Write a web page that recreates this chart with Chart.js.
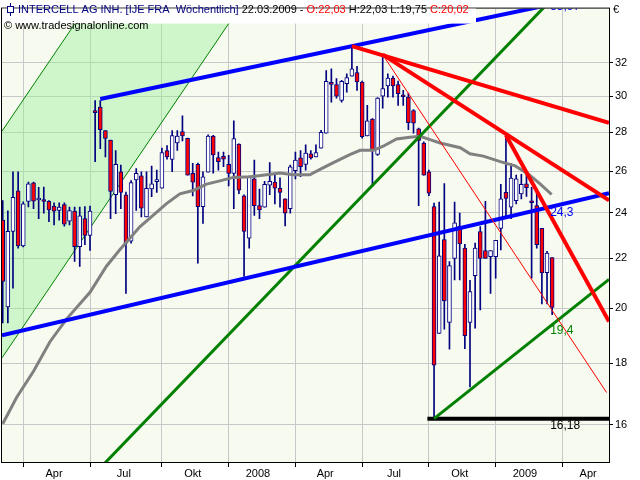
<!DOCTYPE html>
<html>
<head>
<meta charset="utf-8">
<script src="https://cdn.jsdelivr.net/npm/chart.js@4"></script>
<style>
  html, body { margin: 0; padding: 0; background: #fff; }
  canvas { display: block; }
</style>
</head>
<body>
<canvas id="chart" width="640" height="480"></canvas>
<script>
// weekly candles, week 0 = early March 2007, week 107 = 22.03.2009
const opens = [23.67,20.04,23.16,25.04,22.53,24.53,25.42,24.6,24.6,24.54,
  24.31,24.11,24.39,23.62,24.08,22.5,23.74,22.99,29.14,29.39,
  28.1,27.6,24.85,25.97,24.84,22.73,25.57,25.77,23.81,25.13,
  25.48,25.16,27.04,26.59,27.44,28.04,27.68,25.89,26.34,24.29,
  25.95,27.81,26.68,26.75,26.34,25.89,27.38,24.8,22.87,25.62,
  24.34,24.26,25.31,25.46,25.16,24.65,24.19,26.02,26.67,26.34,
  26.88,26.72,27.17,27.96,30.8,30.69,29.77,30.75,31.19,31.4,
  30.84,27.81,28.73,26.84,30.02,30.61,31.08,30.69,30.06,29.96,
  29.2,28.19,27.44,25.97,24.29,19.05,22.8,19.46,22.0,23.4,
  22.43,19.46,21.28,23.16,22.33,22.07,22.07,23.3,24.96,24.26,
  24.57,24.89,25.38,24.5,24.34,23.3,21.4,22.03];
const highs = [24.57,24.09,25.97,25.97,24.51,25.46,25.46,25.2,25.22,24.57,
  24.47,24.47,24.47,24.27,24.27,24.27,24.29,24.31,29.77,29.77,
  28.1,27.6,27.05,26.3,24.98,25.53,26.13,25.97,25.97,26.25,
  26.05,27.17,27.3,28.1,28.1,28.91,27.7,26.39,26.4,25.97,
  27.87,27.85,26.97,26.97,26.8,28.63,27.4,24.85,25.75,26.55,
  25.12,25.5,26.43,25.79,25.67,24.65,26.3,26.97,27.05,27.34,
  27.05,27.34,28.11,31.53,31.63,31.04,30.94,31.33,33.06,31.78,
  30.9,29.49,28.75,29.94,32.44,31.33,31.2,30.9,30.35,30.2,
  29.26,28.23,27.5,26.05,24.45,24.5,25.39,21.86,24.5,23.99,
  22.6,21.09,22.65,23.38,24.54,22.33,22.77,25.35,27.85,26.38,
  25.8,25.84,25.84,25.2,25.13,23.3,22.3,22.03];
const lows = [19.44,19.44,20.78,22.43,22.49,24.28,24.19,23.74,23.99,23.6,
  23.45,23.67,23.4,23.45,21.87,21.66,22.58,22.33,26.47,27.14,
  26.72,23.74,23.96,24.19,20.57,22.65,24.11,23.81,23.81,24.76,
  24.96,25.16,26.6,25.97,27.05,27.55,25.8,24.79,21.8,23.52,
  25.95,25.9,26.05,26.22,25.27,24.19,24.9,21.25,22.43,23.88,
  23.74,24.26,24.85,24.42,24.26,23.41,23.99,25.62,25.73,26.05,
  26.6,26.72,27.17,27.96,29.67,29.9,29.67,30.25,31.19,30.35,
  27.7,27.81,25.27,26.8,29.33,29.96,29.96,29.49,29.49,28.15,
  27.96,24.34,25.8,24.8,16.18,19.05,19.21,18.48,21.11,21.11,
  18.5,17.19,19.24,19.93,22.0,20.57,21.18,22.36,23.74,23.74,
  24.42,24.65,24.77,21.18,22.43,20.16,20.16,19.75];
const closes = [21.05,23.17,24.73,22.53,24.42,25.38,24.54,24.67,24.53,24.14,
  24.08,24.27,23.49,24.11,22.5,23.86,22.99,24.08,29.08,28.15,
  27.68,25.01,26.34,24.96,22.65,25.43,25.89,24.22,25.16,25.38,
  25.54,26.94,26.72,27.83,27.8,27.81,25.8,25.46,24.29,25.72,
  27.81,26.82,26.47,26.6,25.89,27.67,25.07,23.16,25.73,24.34,
  24.14,25.35,25.5,25.16,24.96,23.99,26.22,26.55,26.22,26.92,
  26.67,26.94,28.0,30.88,30.7,30.02,30.88,31.1,31.63,30.84,
  27.77,28.63,27.05,29.9,30.45,31.08,30.61,30.16,29.98,28.53,
  28.5,27.58,25.8,24.92,17.93,22.1,20.27,21.7,23.55,22.61,
  18.97,20.64,22.43,22.0,22.0,22.33,22.77,24.65,24.68,25.66,
  25.62,25.35,25.19,24.47,22.58,21.39,22.22,20.02];

// moving average: [week, price]
const maWeeks = [0,2.7,6,9.2,12.5,17,20.2,22.8,26.7,31.9,34.5,37.1,39.7,42.3,44.9,48.2,51.4,54,56.6,59.8,
  61.8,64.4,67.6,69.6,72.2,74.1,76.7,79.3,81.3,83.2,85.2,89.1,91,93.6,96.9,99.8,102.4,104.7,106.9];
const maValues = [16.02,16.85,17.72,18.75,19.6,20.61,21.67,22.36,23.37,24.43,24.89,25.05,25.36,25.52,25.69,25.72,25.82,25.9,25.82,25.82,
  26.09,26.43,26.84,27.06,27.06,27.27,27.65,27.74,27.79,27.62,27.44,27.19,26.88,26.76,26.48,26.26,25.85,25.36,24.86];

// trend lines: [week, price] end points
const channelLow = [[-0.14, 28.07], [50, 58.1]];
const channelHigh = [[-0.14, 18.18], [50, 37.63]];
const blueUpper = [[19, 29.85], [118.07, 36.63]];
const blueLower = [[-0.14, 18.98], [118.07, 24.92]];
const greenLong = [[-0.14, 12.11], [118.07, 40.5]];
const greenLow = [[84, 16.18], [118.07, 21.13]];
const supportLine = [[82.7, 16.18], [118.07, 16.18]];
const redTop = [[68, 33.04], [118.07, 28.52]];
const redMid = [[74, 32.5], [118.07, 24.58]];
const redSteep = [[98, 27.85], [118.07, 19.49]];
const redThin = [[74, 32.5], [117.6, 17.01]];

const lineLabels = ['35,97', '24,3', '19,4', '16,18'];
const lastWeek = 107;

const yTicks = [16, 18, 20, 22, 24, 26, 28, 30, 32];
const xGridWeeks = [4, 17, 31, 44, 57, 70, 83, 96, 109];
const xLabelWeeks = [10, 23.6, 37, 49.7, 62.8, 76.2, 89, 101.7, 114];
const xLabelText = ['Apr', 'Jul', 'Okt', '2008', 'Apr', 'Jul', 'Okt', '2009', 'Apr'];

const FONT = '"Liberation Sans", Arial, sans-serif';
const labelMap = new Map(xLabelWeeks.map((w, i) => [w, xLabelText[i]]));

const pts = arr => arr.map(p => ({ x: p[0], y: p[1] }));
const trend = (points, color, width, order) => ({
  type: 'line', data: pts(points), borderColor: color, borderWidth: width,
  pointRadius: 0, fill: false, tension: 0, clip: 0, order
});

const wickData = highs.map((h, i) => ({ x: i, y: [lows[i], h] }));
const bodyData = opens.map((o, i) => ({ x: i, y: [o, closes[i]] }));
const bodyColors = opens.map((o, i) => closes[i] >= o ? '#ffffff' : '#ff0000');

const framePlugin = {
  id: 'frame',
  beforeDraw(chart) {
    const { ctx, chartArea: a } = chart;
    ctx.save();
    ctx.fillStyle = '#ffffff';
    ctx.fillRect(0, 0, chart.width, chart.height);
    ctx.fillStyle = '#f7faef';
    ctx.fillRect(a.left, a.top, a.right - a.left, a.bottom - a.top);
    ctx.restore();
  },
  afterDraw(chart) {
    const { ctx, chartArea: a } = chart;
    const xs = chart.scales.x, ys = chart.scales.y;
    const at = (line, w) => {
      const x0 = xs.getPixelForValue(line[0][0]), y0 = ys.getPixelForValue(line[0][1]);
      const x1 = xs.getPixelForValue(line[1][0]), y1 = ys.getPixelForValue(line[1][1]);
      const x = xs.getPixelForValue(w);
      return y0 + (y1 - y0) * (x - x0) / (x1 - x0);
    };
    ctx.save();
    ctx.beginPath();
    ctx.rect(a.left, a.top, a.right - a.left, a.bottom - a.top);
    ctx.clip();
    ctx.font = '12px ' + FONT;
    ctx.textBaseline = 'top';
    ctx.textAlign = 'left';
    const lx = xs.getPixelForValue(lastWeek) - 2;
    [[blueUpper, '#0000ff', -3], [blueLower, '#0000ff', 0], [greenLow, '#008000', 0], [supportLine, '#000000', 1]]
      .forEach(([line, color, dy], i) => {
        ctx.fillStyle = color;
        ctx.fillText(lineLabels[i], lx, at(line, lastWeek) + dy);
      });
    ctx.restore();

    ctx.save();
    // frame
    ctx.strokeStyle = '#000';
    ctx.lineWidth = 1;
    ctx.strokeRect(a.left - 0.5, a.top - 0.5, a.right - a.left + 1, a.bottom - a.top + 1);
    // header
    ctx.fillStyle = '#ffffff';
    ctx.fillRect(a.left, a.top, 474, 15);
    ctx.strokeStyle = '#000080';
    ctx.beginPath();
    ctx.moveTo(10.5, 3); ctx.lineTo(10.5, 16);
    ctx.stroke();
    ctx.fillStyle = '#ffffff';
    ctx.fillRect(8, 6.5, 5, 6);
    ctx.strokeRect(7.5, 6.5, 6, 6);
    ctx.font = '11px ' + FONT;
    ctx.textBaseline = 'middle';
    let x = 18;
    [['INTERCELL AG INH. [IJE FRA  Wöchentlich] ', '#000080'], ['22.03.2009 - ', '#000000'],
     ['O:22,03 ', '#ff0000'], ['H:22,03 L:19,75 ', '#000000'], ['C:20,02', '#ff0000']]
      .forEach(([t, c]) => {
        ctx.fillStyle = c;
        ctx.fillText(t, x, 10);
        x += ctx.measureText(t).width;
      });
    ctx.fillStyle = '#000000';
    ctx.fillText('© www.tradesignalonline.com', 4, 26);
    ctx.fillText('€', 613, 10);
    ctx.restore();
  }
};

new Chart(document.getElementById('chart'), {
  type: 'bar',
  data: {
    datasets: [
      { type: 'line', data: pts(channelLow), borderColor: '#008000', borderWidth: 1, pointRadius: 0,
        fill: false, clip: 0, order: 10 },
      { type: 'line', data: pts(channelHigh), borderColor: '#008000', borderWidth: 1, pointRadius: 0,
        fill: '-1', backgroundColor: 'rgba(150,240,150,0.42)', clip: 0, order: 9 },
      { data: wickData, backgroundColor: '#000080', barThickness: 1, grouped: false, order: 8 },
      { data: bodyData, backgroundColor: bodyColors, borderColor: '#000080', borderWidth: 1,
        borderSkipped: false, barThickness: 4, minBarLength: 2, grouped: false, order: 7 },
      { type: 'line', data: maWeeks.map((w, i) => ({ x: w, y: maValues[i] })), borderColor: '#808080',
        borderWidth: 3, pointRadius: 0, fill: false, tension: 0, clip: 0, order: 6 },
      trend(blueUpper, '#0000ff', 4, 5),
      trend(blueLower, '#0000ff', 4, 5),
      trend(greenLong, '#008000', 3, 5),
      trend(greenLow, '#008000', 3, 5),
      trend(supportLine, '#000000', 4, 5),
      trend(redThin, '#ff0000', 1, 4),
      trend(redTop, '#ff0000', 4, 3),
      trend(redMid, '#ff0000', 4, 3),
      trend(redSteep, '#ff0000', 4, 3)
    ]
  },
  options: {
    responsive: false,
    animation: false,
    events: [],
    layout: { padding: { left: 2, top: 2, right: 0, bottom: 0 } },
    plugins: {
      legend: { display: false },
      tooltip: { enabled: false },
      filler: { drawTime: 'beforeDatasetsDraw' }
    },
    scales: {
      x: {
        type: 'linear',
        min: -0.14,
        max: 118.07,
        offset: false,
        afterBuildTicks: s => {
          s.ticks = [...xGridWeeks, ...xLabelWeeks].sort((p, q) => p - q).map(v => ({ value: v }));
        },
        afterFit: s => { s.height = 18; },
        grid: {
          offset: false,
          color: c => (c.tick && labelMap.has(c.tick.value)) ? 'rgba(0,0,0,0)' : '#c8c8c8',
          tickColor: c => (c.tick && labelMap.has(c.tick.value)) ? 'rgba(0,0,0,0)' : '#000000',
          tickLength: 5
        },
        border: { display: true, color: '#000000' },
        ticks: {
          autoSkip: false,
          maxRotation: 0,
          minRotation: 0,
          padding: 0,
          color: '#000000',
          font: { family: FONT, size: 11 },
          callback: v => labelMap.get(v) || ''
        }
      },
      y: {
        type: 'logarithmic',
        position: 'right',
        min: 14.89,
        max: 35.5,
        bounds: 'data',
        afterBuildTicks: s => { s.ticks = yTicks.map(v => ({ value: v })); },
        afterFit: s => { s.width = 31; },
        grid: { color: '#c8c8c8', tickColor: '#000000', tickLength: 4 },
        border: { display: true, color: '#000000' },
        ticks: {
          padding: 2,
          color: '#000000',
          font: { family: FONT, size: 11 },
          callback: v => String(v)
        }
      }
    }
  },
  plugins: [framePlugin]
});
</script>
</body>
</html>
